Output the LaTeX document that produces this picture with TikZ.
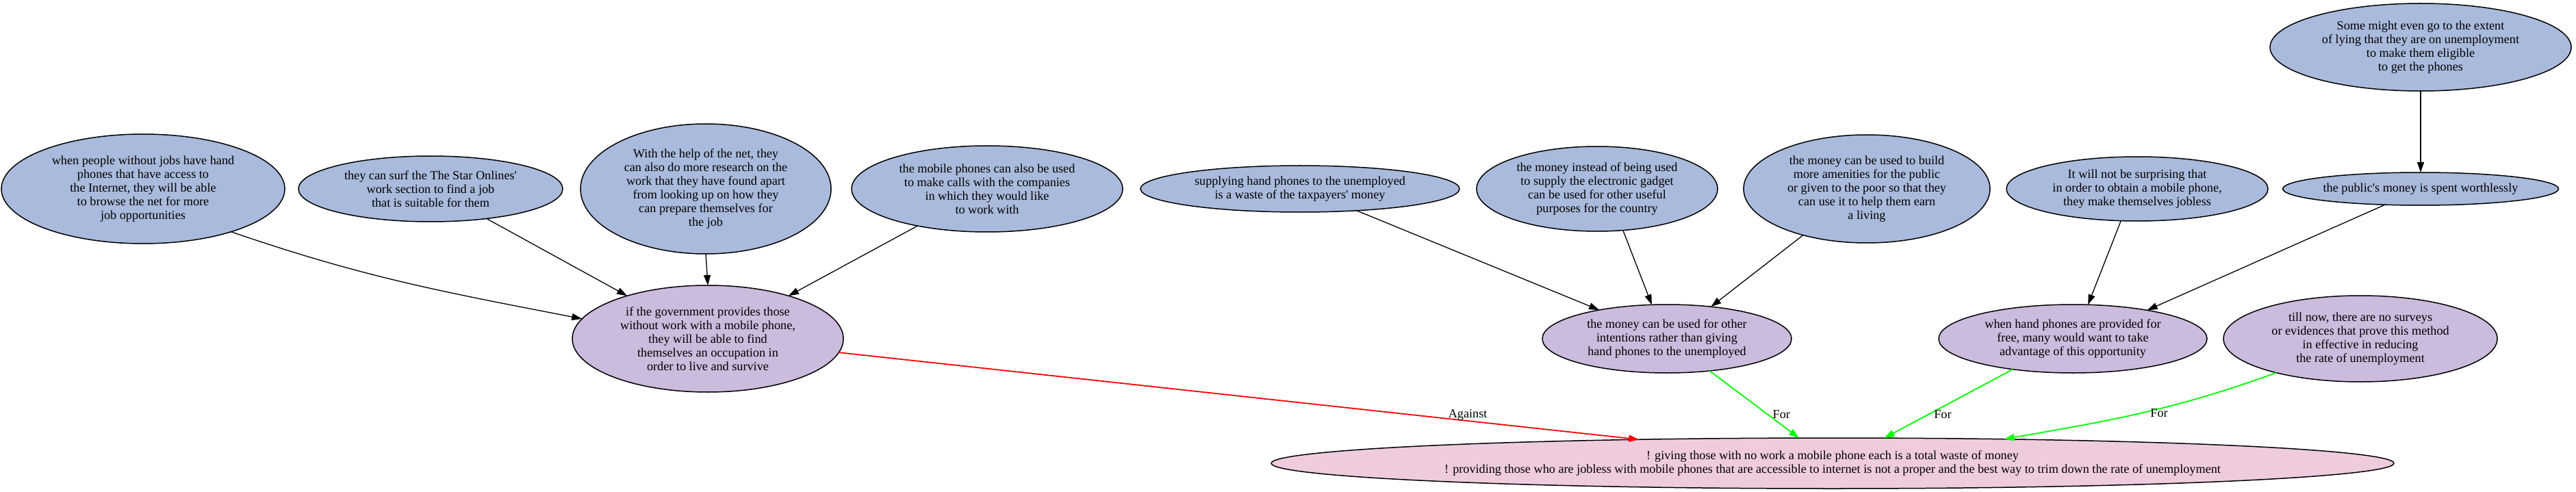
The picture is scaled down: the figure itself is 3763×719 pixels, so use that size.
\documentclass[tikz,border=0pt]{standalone}
\usepackage{fontspec}
\setmainfont{Liberation Serif}
\usetikzlibrary{shapes.geometric,arrows.meta}
\definecolor{nblue}{RGB}{170,186,220}
\definecolor{npurple}{RGB}{203,187,221}
\definecolor{npink}{RGB}{238,204,221}
\definecolor{egreen}{RGB}{0,255,0}
\definecolor{ered}{RGB}{255,0,0}
\begin{document}
\begin{tikzpicture}[x=1pt,y=-1pt,
  base/.style={ellipse, draw=black, line width=1.5pt, inner sep=0pt, outer sep=0pt, align=center, font=\fontsize{18.2}{20}\selectfont},
  prem/.style={base, fill=nblue},
  mid/.style={base, fill=npurple},
  concl/.style={base, fill=npink},
  edge/.style={line width=1.3pt, -{Triangle[length=15pt,width=10pt]}},
  pro/.style={edge, draw=egreen, line width=1.8pt},
  con/.style={edge, draw=ered, line width=1.8pt},
  elabel/.style={font=\fontsize{18.2}{20}\selectfont, inner sep=0pt}
]
\useasboundingbox (0,0) rectangle (3763,719);

\node[prem, minimum width=414pt, minimum height=160pt] (A1) at (209,276) {when people without jobs have hand\\phones that have access to\\the Internet, they will be able\\to browse the net for more\\job opportunities};
\node[prem, minimum width=386pt, minimum height=96pt] (A2) at (629,276) {they can surf the The Star Onlines\textquotesingle\\work section to find a job\\that is suitable for them};
\node[prem, minimum width=366pt, minimum height=190pt] (A3) at (1031,276) {With the help of the net, they\\can also do more research on the\\work that they have found apart\\from looking up on how they\\can prepare themselves for\\the job};
\node[prem, minimum width=396pt, minimum height=126pt] (A4) at (1442,276) {the mobile phones can also be used\\to make calls with the companies\\in which they would like\\to work with};
\node[prem, minimum width=466pt, minimum height=68pt] (B1) at (1899,276) {supplying hand phones to the unemployed\\is a waste of the taxpayers\textquotesingle\ money};
\node[prem, minimum width=352pt, minimum height=124pt] (B2) at (2333,276) {the money instead of being used\\to supply the electronic gadget\\can be used for other useful\\purposes for the country};
\node[prem, minimum width=360pt, minimum height=158pt] (B3) at (2727,276) {the money can be used to build\\more amenities for the public\\or given to the poor so that they\\can use it to help them earn\\a living};
\node[prem, minimum width=382pt, minimum height=94pt] (C1) at (3122,276) {It will not be surprising that\\in order to obtain a mobile phone,\\they make themselves jobless};
\node[prem, minimum width=402pt, minimum height=48pt] (D1) at (3536,276) {the public\textquotesingle s money is spent worthlessly};
\node[prem, minimum width=440pt, minimum height=128pt] (D0) at (3536,69) {Some might even go to the extent\\of lying that they are on unemployment\\to make them eligible\\to get the phones};

\node[mid, minimum width=396pt, minimum height=156pt] (P1) at (1034,495) {if the government provides those\\without work with a mobile phone,\\they will be able to find\\themselves an occupation in\\order to live and survive};
\node[mid, minimum width=364pt, minimum height=100pt] (P2) at (2435,495) {the money can be used for other\\intentions rather than giving\\hand phones to the unemployed};
\node[mid, minimum width=392pt, minimum height=100pt] (P3) at (3028,495) {when hand phones are provided for\\free, many would want to take\\advantage of this opportunity};
\node[mid, minimum width=400pt, minimum height=126pt] (P4) at (3448,495) {till now, there are no surveys\\or evidences that prove this method\\in effective in reducing\\the rate of unemployment};

\node[concl, minimum width=1640pt, minimum height=74pt] (K) at (2677,677) {! giving those with no work a mobile phone each is a total waste of money\\! providing those who are jobless with mobile phones that are accessible to internet is not a proper and the best way to trim down the rate of unemployment};

\draw[edge] (A1.-26) to[out=-19,in=169] (P1.171);
\draw[edge] (A2.-28) -- (P1.152);
\draw[edge] (A3.-90) -- (P1.90);
\draw[edge] (A4.-152) -- (P1.28);
\draw[edge] (B1.-21) -- (P2.157);
\draw[edge] (B2.-58) -- (P2.114);
\draw[edge] (B3.-144) -- (P2.36);
\draw[edge] (C1.-117) -- (P3.66);
\draw[edge] (D1.-156) -- (P3.21);
\draw[edge] (D0.-90) -- (D1.90);
\draw[con] (P1.-6) -- node[elabel, pos=0.786, yshift=9pt] (lA) {Against} (K.173.6);
\draw[pro] (P2.-37) -- node[elabel, pos=0.65, xshift=20pt] (lF1) {For} (K.143);
\draw[pro] (P3.-153) -- node[elabel, pos=0.657, xshift=21pt] (lF2) {For} (K.26);
\draw[pro] (P4.-158) to[out=200,in=10] node[elabel, pos=0.5, xshift=25pt] (lF3) {For} (K.8);
\end{tikzpicture}
\end{document}
